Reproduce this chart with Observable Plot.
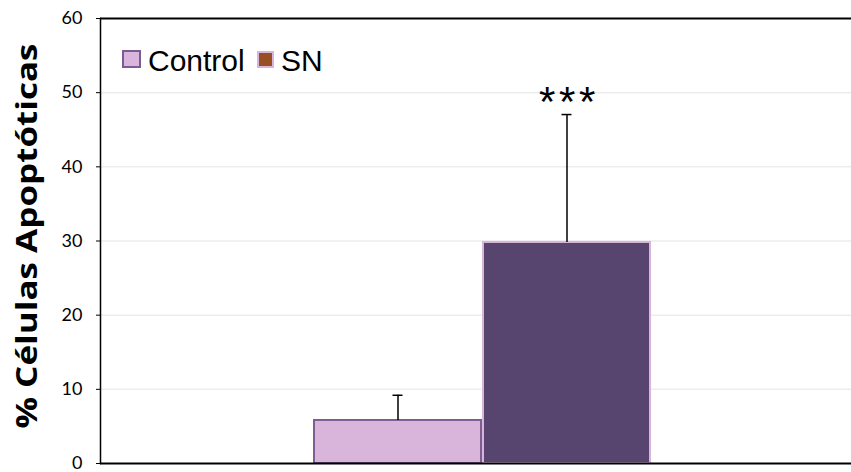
<!DOCTYPE html>
<html><head><meta charset="utf-8">
<script src="https://cdn.jsdelivr.net/npm/d3@7"></script>
<script src="https://cdn.jsdelivr.net/npm/@observablehq/plot@0.6"></script>
<style>
body{margin:0;background:#fff;}
#wrap{position:relative;width:851px;height:472px;overflow:hidden;background:#fff;}
.sw{position:absolute;box-sizing:border-box;border:2px solid;}
.lt{position:absolute;font-family:"Liberation Sans",Arial,sans-serif;font-size:30px;line-height:30px;color:#000;white-space:nowrap;}
</style></head><body><div id="wrap"></div>
<script>
// ---- data ----
const groups = ["Control", "SN"];
const means = [5.8, 29.8];
const errors = [3.4, 17.25];
const significance = ["", "***"];
const yTicks = [0, 10, 20, 30, 40, 50, 60];
const yTitle = "% Células Apoptóticas";
const legendLabels = ["Control", "SN"];

// ---- styles ----
const barFill = {Control: "#d9b4db", SN: "#574570"};
const barStroke = {Control: "#7d5e93", SN: "#d9b4db"};
const legendFill = ["#d9b4db", "#984f22"];
const legendStroke = ["#7b5c92", "#d9b4db"];

const data = groups.map((g, i) => ({group: g, mean: means[i], err: errors[i], sig: significance[i]}));

const chart = Plot.plot({
  width: 851, height: 472,
  marginTop: 18, marginBottom: 9, marginLeft: 100, marginRight: 0,
  x: {domain: groups, range: [313, 651], padding: 0, axis: null},
  y: {domain: [0, 60], label: null, axis: null},
  style: {background: "white", overflow: "visible"},
  marks: [
    Plot.ruleY(yTicks.filter(t => t > 0 && t < 60), {stroke: "#ededed", strokeWidth: 1.5}),
    Plot.barY(data, {x: "group", y: "mean", fill: d => barFill[d.group], stroke: d => barStroke[d.group], strokeWidth: 2, insetLeft: 1, insetRight: 1}),
    Plot.ruleX(data, {x: "group", y1: "mean", y2: d => d.mean + d.err, stroke: "black", strokeWidth: 1.5}),
    Plot.tickY(data, {x: "group", y: d => d.mean + d.err, insetLeft: 79.5, insetRight: 79.5, stroke: "black", strokeWidth: 1.5}),
    Plot.text(data, {x: "group", y: d => d.mean + d.err, text: "sig", fontSize: 42, dy: -12, dx: 2, lineAnchor: "middle", fontFamily: "Liberation Sans, Arial, sans-serif", fill: "black", className: "sig"}),
    Plot.ruleY([0, 60], {stroke: "black", strokeWidth: 2}),
    Plot.frame({anchor: "left", stroke: "black", strokeWidth: 1.5}),
    Plot.axisY({ticks: yTicks, tickSize: 4, tickPadding: 14, fontSize: 18, fontFamily: "Lato, sans-serif", tickFormat: d => String(d), label: null, stroke: "black", fill: "black"}),
    Plot.text([yTitle], {frameAnchor: "left", textAnchor: "middle", lineAnchor: "middle", rotate: -90, dx: -73, dy: -5, fontSize: 29, fontWeight: "bold", fontFamily: "Open Sans, sans-serif", fill: "black", className: "ytitle"})
  ]
});
const wrap = document.getElementById("wrap");
wrap.appendChild(chart);
// stretch title / space stars to match reference proportions
d3.select(chart).selectAll(".ytitle text").attr("textLength", 385).attr("lengthAdjust", "spacingAndGlyphs");
d3.select(chart).selectAll(".sig text").style("letter-spacing", "3.7px");

// legend (inside plot area, top-left)
const legendPos = [{sx: 122, sy: 50, sw: 19, sh: 18, tx: 148}, {sx: 257, sy: 51, sw: 17, sh: 17, tx: 281}];
legendLabels.forEach((lab, i) => {
  const p = legendPos[i];
  const s = document.createElement("div");
  s.className = "sw";
  Object.assign(s.style, {left: p.sx + "px", top: p.sy + "px", width: p.sw + "px", height: p.sh + "px", background: legendFill[i], borderColor: legendStroke[i]});
  wrap.appendChild(s);
  const t = document.createElement("div");
  t.className = "lt";
  t.textContent = lab;
  Object.assign(t.style, {left: p.tx + "px", top: "46px"});
  wrap.appendChild(t);
});
</script>
</body></html>
